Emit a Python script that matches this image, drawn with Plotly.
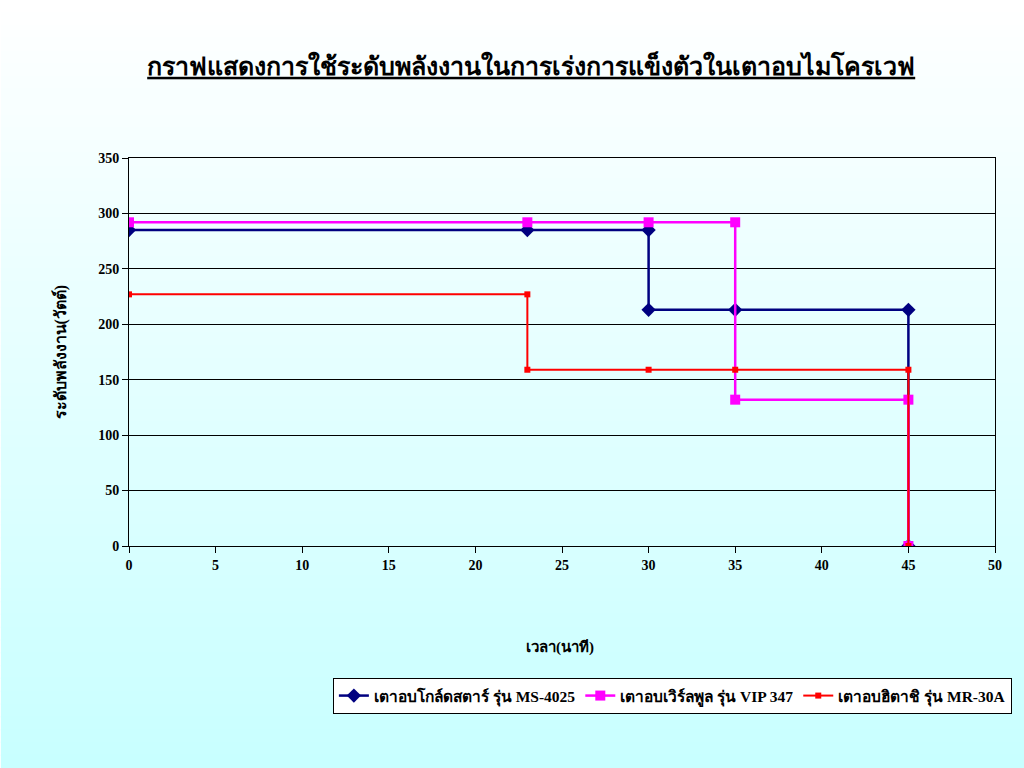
import plotly.graph_objects as go

# Data
gold_x = [0, 23, 30, 30, 35, 45, 45]
gold_y = [285, 285, 285, 213, 213, 213, 0]
whirl_x = [0, 23, 30, 35, 35, 45, 45]
whirl_y = [292, 292, 292, 292, 132, 132, 0]
hit_x = [0, 23, 23, 30, 35, 45, 45]
hit_y = [227, 227, 159, 159, 159, 159, 0]
names = ["เตาอบโกล์ดสตาร์ รุ่น MS-4025", "เตาอบเวิร์ลพูล รุ่น VIP 347", "เตาอบฮิตาชิ รุ่น MR-30A"]
x_ticks = list(range(0, 51, 5))
y_ticks = list(range(0, 351, 50))

FONT = "Liberation Serif, Times New Roman, serif"

fig = go.Figure()
fig.add_trace(go.Scatter(x=gold_x, y=gold_y, name=names[0], mode="lines+markers",
                         line=dict(color="#000080", width=2.5),
                         marker=dict(symbol="diamond", size=11, color="#000080")))
fig.add_trace(go.Scatter(x=whirl_x, y=whirl_y, name=names[1], mode="lines+markers",
                         line=dict(color="#FF00FF", width=2.5),
                         marker=dict(symbol="square", size=10, color="#FF00FF")))
fig.add_trace(go.Scatter(x=hit_x, y=hit_y, name=names[2], mode="lines+markers",
                         line=dict(color="#FF0000", width=2),
                         marker=dict(symbol="square", size=6, color="#FF0000")))

L, R, T, B = 129, 23, 158, 222
W, H = 1024, 768
pw, ph = W - L - R, H - T - B

# gradient background bands
shapes = []
n = 60
y_top = 1 + T / ph
y_bot = -B / ph
x_l = -L / pw
x_r = 1 + (R + 10) / pw
for i in range(n):
    f = i / (n - 1)
    r = round(255 - (255 - 200) * f)
    col = f"rgb({r},255,255)"
    y1 = y_top - (y_top - y_bot) * i / n
    y0 = y_top - (y_top - y_bot) * (i + 1) / n
    shapes.append(dict(type="rect", xref="paper", yref="paper", x0=x_l, x1=x_r,
                       y0=y0 - 0.002, y1=y1 + 0.002, fillcolor=col, line=dict(width=0),
                       layer="below"))

fig.update_layout(
    width=W, height=H,
    margin=dict(l=L, r=R, t=T, b=B),
    paper_bgcolor="rgba(0,0,0,0)",
    plot_bgcolor="white",
    shapes=shapes,
    font=dict(family=FONT, color="black"),
    title=dict(text="<u>กราฟแสดงการใช้ระดับพลังงานในการเร่งการแข็งตัวในเตาอบไมโครเวฟ</u>",
               x=(534 - L) / pw, xref="paper", xanchor="center", y=0.914, yanchor="middle",
               font=dict(size=25, family=FONT, color="black", weight="bold")),
    xaxis=dict(range=[0, 50], tickvals=x_ticks, showgrid=False, zeroline=False,
               showline=True, linecolor="black", linewidth=1, mirror=True,
               ticks="outside", ticklen=6, tickcolor="black",
               tickfont=dict(size=14, family=FONT, color="black", weight="bold"),
               fixedrange=True),
    yaxis=dict(range=[0, 350], tickvals=y_ticks, showgrid=True, gridcolor="black", gridwidth=1,
               zeroline=False, showline=True, linecolor="black", linewidth=1, mirror=True,
               ticks="outside", ticklen=6, tickcolor="black",
               tickfont=dict(size=14, family=FONT, color="black", weight="bold"),
               fixedrange=True),
    legend=dict(orientation="h", x=(1018 - L) / pw, xanchor="right",
                y=-(678 - 546) / ph, yanchor="top",
                bgcolor="white", bordercolor="black", borderwidth=1,
                font=dict(size=15.5, family=FONT, color="black", weight="bold")),
    annotations=[
        dict(text="เวลา(นาที)", xref="paper", yref="paper",
             x=(563 - L) / pw, y=-(647 - 546) / ph, showarrow=False,
             xanchor="center", yanchor="middle", font=dict(size=15, family=FONT, weight="bold")),
        dict(text="ระดับพลังงาน(วัตต์)", xref="paper", yref="paper",
             x=-(L - 60) / pw, y=(546 - 352) / ph, showarrow=False, textangle=-90,
             xanchor="center", yanchor="middle", font=dict(size=16, family=FONT, weight="bold")),
    ],
)

fig.write_html("out.html", config={"displayModeBar": False},
               post_script="document.body.style.margin='0';document.body.style.overflow='hidden';")
